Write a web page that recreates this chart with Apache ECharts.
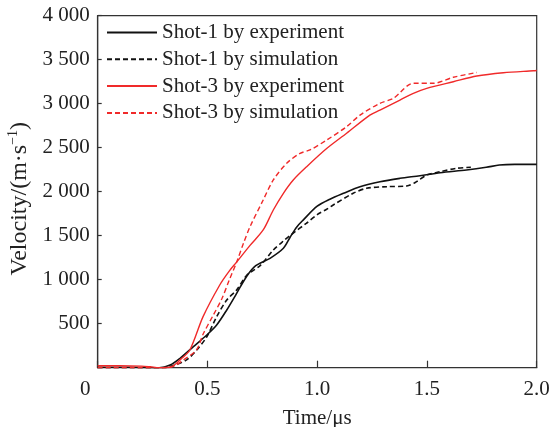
<!DOCTYPE html>
<html>
<head>
<meta charset="utf-8">
<script src="https://cdn.jsdelivr.net/npm/echarts@6/dist/echarts.min.js"></script>
<style>
html,body{margin:0;padding:0;background:#fff;}
#chart{width:556px;height:427px;}
</style>
</head>
<body>
<div id="chart"></div>
<script>
// Data
const seriesNames = ['Shot-1 by experiment', 'Shot-1 by simulation', 'Shot-3 by experiment', 'Shot-3 by simulation'];

const shot1ExpTime = [0, 0.15, 0.28, 0.33, 0.375, 0.436, 0.497, 0.542, 0.588, 0.633, 0.679, 0.72, 0.785, 0.846, 0.876, 0.907, 0.937, 1.0, 1.058, 1.12, 1.195, 1.286, 1.377, 1.468, 1.56, 1.68, 1.77, 1.83, 1.9, 2.0];
const shot1ExpVel  = [5, 5, 0, 30, 107, 239, 372, 485, 656, 845, 1040, 1160, 1243, 1357, 1480, 1600, 1680, 1835, 1915, 1982, 2057, 2114, 2152, 2182, 2216, 2247, 2277, 2303, 2310, 2310];

const shot1SimTime = [0, 0.15, 0.3, 0.35, 0.405, 0.451, 0.497, 0.542, 0.588, 0.633, 0.68, 0.74, 0.8, 0.846, 0.891, 0.95, 1.0, 1.043, 1.073, 1.164, 1.225, 1.317, 1.408, 1.453, 1.499, 1.559, 1.635, 1.70];
const shot1SimVel  = [0, 0, 0, 30, 88, 201, 352, 580, 769, 883, 1053, 1160, 1337, 1440, 1530, 1640, 1740, 1800, 1849, 1982, 2039, 2057, 2065, 2114, 2190, 2227, 2266, 2277];

const shot3ExpTime = [0, 0.1, 0.2, 0.24, 0.28, 0.33, 0.38, 0.42, 0.48, 0.556, 0.60, 0.633, 0.694, 0.754, 0.80, 0.846, 0.891, 0.952, 1.043, 1.134, 1.24, 1.286, 1.377, 1.438, 1.499, 1.62, 1.727, 1.848, 1.985, 2.0];
const shot3ExpVel  = [22, 22, 18, 10, 0, 5, 100, 201, 580, 940, 1100, 1200, 1390, 1565, 1792, 1982, 2133, 2284, 2490, 2664, 2870, 2928, 3042, 3118, 3175, 3250, 3315, 3352, 3375, 3378];

const shot3SimTime = [0, 0.15, 0.3, 0.35, 0.39, 0.45, 0.48, 0.527, 0.565, 0.60, 0.633, 0.665, 0.694, 0.754, 0.80, 0.861, 0.922, 0.967, 1.043, 1.134, 1.195, 1.286, 1.347, 1.438, 1.529, 1.62, 1.727];
const shot3SimVel  = [0, 0, 0, 20, 88, 201, 380, 600, 780, 1000, 1200, 1420, 1602, 1906, 2133, 2323, 2436, 2474, 2587, 2739, 2870, 3005, 3061, 3232, 3232, 3300, 3355];

const xTicks = [0, 0.5, 1.0, 1.5, 2.0];
const yTicks = [0, 500, 1000, 1500, 2000, 2500, 3000, 3500, 4000];

function pairs(t, v) { return t.map((x, i) => [x, v[i]]); }

const RED = '#f02a2a';
const BLACK = '#111111';
const FONT = 'Liberation Serif';

const chart = echarts.init(document.getElementById('chart'), null, {renderer: 'canvas'});
chart.setOption({
  animation: false,
  backgroundColor: '#ffffff',
  grid: {left: 97.7, right: 19.3, top: 15.7, bottom: 59.3, containLabel: false, outerBoundsMode: 'none',
         show: true, borderColor: '#333', borderWidth: 1.2, backgroundColor: 'transparent'},
  legend: {
    orient: 'vertical', left: 101, top: 17, itemGap: 5.8, itemWidth: 50, itemHeight: 14,
    itemStyle: {opacity: 0},
    textStyle: {fontFamily: FONT, fontSize: 21, color: '#222'},
    data: seriesNames
  },
  xAxis: {
    type: 'value', min: xTicks[0], max: xTicks[xTicks.length - 1], interval: 0.5,
    name: 'Time/μs', nameLocation: 'middle', nameGap: 40,
    nameTextStyle: {fontFamily: FONT, fontSize: 21, color: '#222'},
    axisLine: {show: true, lineStyle: {color: '#333', width: 1.2}},
    axisTick: {show: true, inside: true, length: 7, lineStyle: {color: '#333', width: 1.2}},
    splitLine: {show: false},
    axisLabel: {
      fontFamily: FONT, fontSize: 21, color: '#222', margin: 11,
      formatter: v => v === 0 ? '{z|0}' : v.toFixed(1),
      rich: {z: {fontFamily: FONT, fontSize: 21, color: '#222', padding: [0, 25, 0, 0]}}
    }
  },
  yAxis: {
    type: 'value', min: yTicks[0], max: yTicks[yTicks.length - 1], interval: 500,
    name: 'Velocity/(m·s{sup|−1})', nameLocation: 'middle', nameGap: 63,
    nameTextStyle: {fontFamily: FONT, fontSize: 24, color: '#222', padding: [0, 14, 0, 0],
      rich: {sup: {fontFamily: FONT, fontSize: 14, color: '#222', verticalAlign: 'top', padding: [0, 0, 12, 0]}}},
    axisLine: {show: true, lineStyle: {color: '#333', width: 1.2}},
    axisTick: {show: true, inside: true, length: 4, lineStyle: {color: '#333', width: 1.2}},
    splitLine: {show: false},
    axisLabel: {
      fontFamily: FONT, fontSize: 21, color: '#222', margin: 8,
      formatter: v => v === 0 ? '' : (v >= 1000 ? Math.floor(v / 1000) + ' ' + String(v % 1000).padStart(3, '0') : String(v))
    }
  },
  series: [
    {name: seriesNames[0], type: 'line', data: pairs(shot1ExpTime, shot1ExpVel), symbol: 'none', smooth: 0.3,
     lineStyle: {color: BLACK, width: 1.6, type: 'solid'}, itemStyle: {color: BLACK}},
    {name: seriesNames[1], type: 'line', data: pairs(shot1SimTime, shot1SimVel), symbol: 'none', smooth: 0.3,
     lineStyle: {color: BLACK, width: 1.6, type: [5, 3]}, itemStyle: {color: BLACK}},
    {name: seriesNames[2], type: 'line', data: pairs(shot3ExpTime, shot3ExpVel), symbol: 'none', smooth: 0.3,
     lineStyle: {color: RED, width: 1.4, type: 'solid'}, itemStyle: {color: RED}},
    {name: seriesNames[3], type: 'line', data: pairs(shot3SimTime, shot3SimVel), symbol: 'none', smooth: 0.3,
     lineStyle: {color: RED, width: 1.4, type: [5, 3]}, itemStyle: {color: RED}}
  ]
});
</script>
</body>
</html>
